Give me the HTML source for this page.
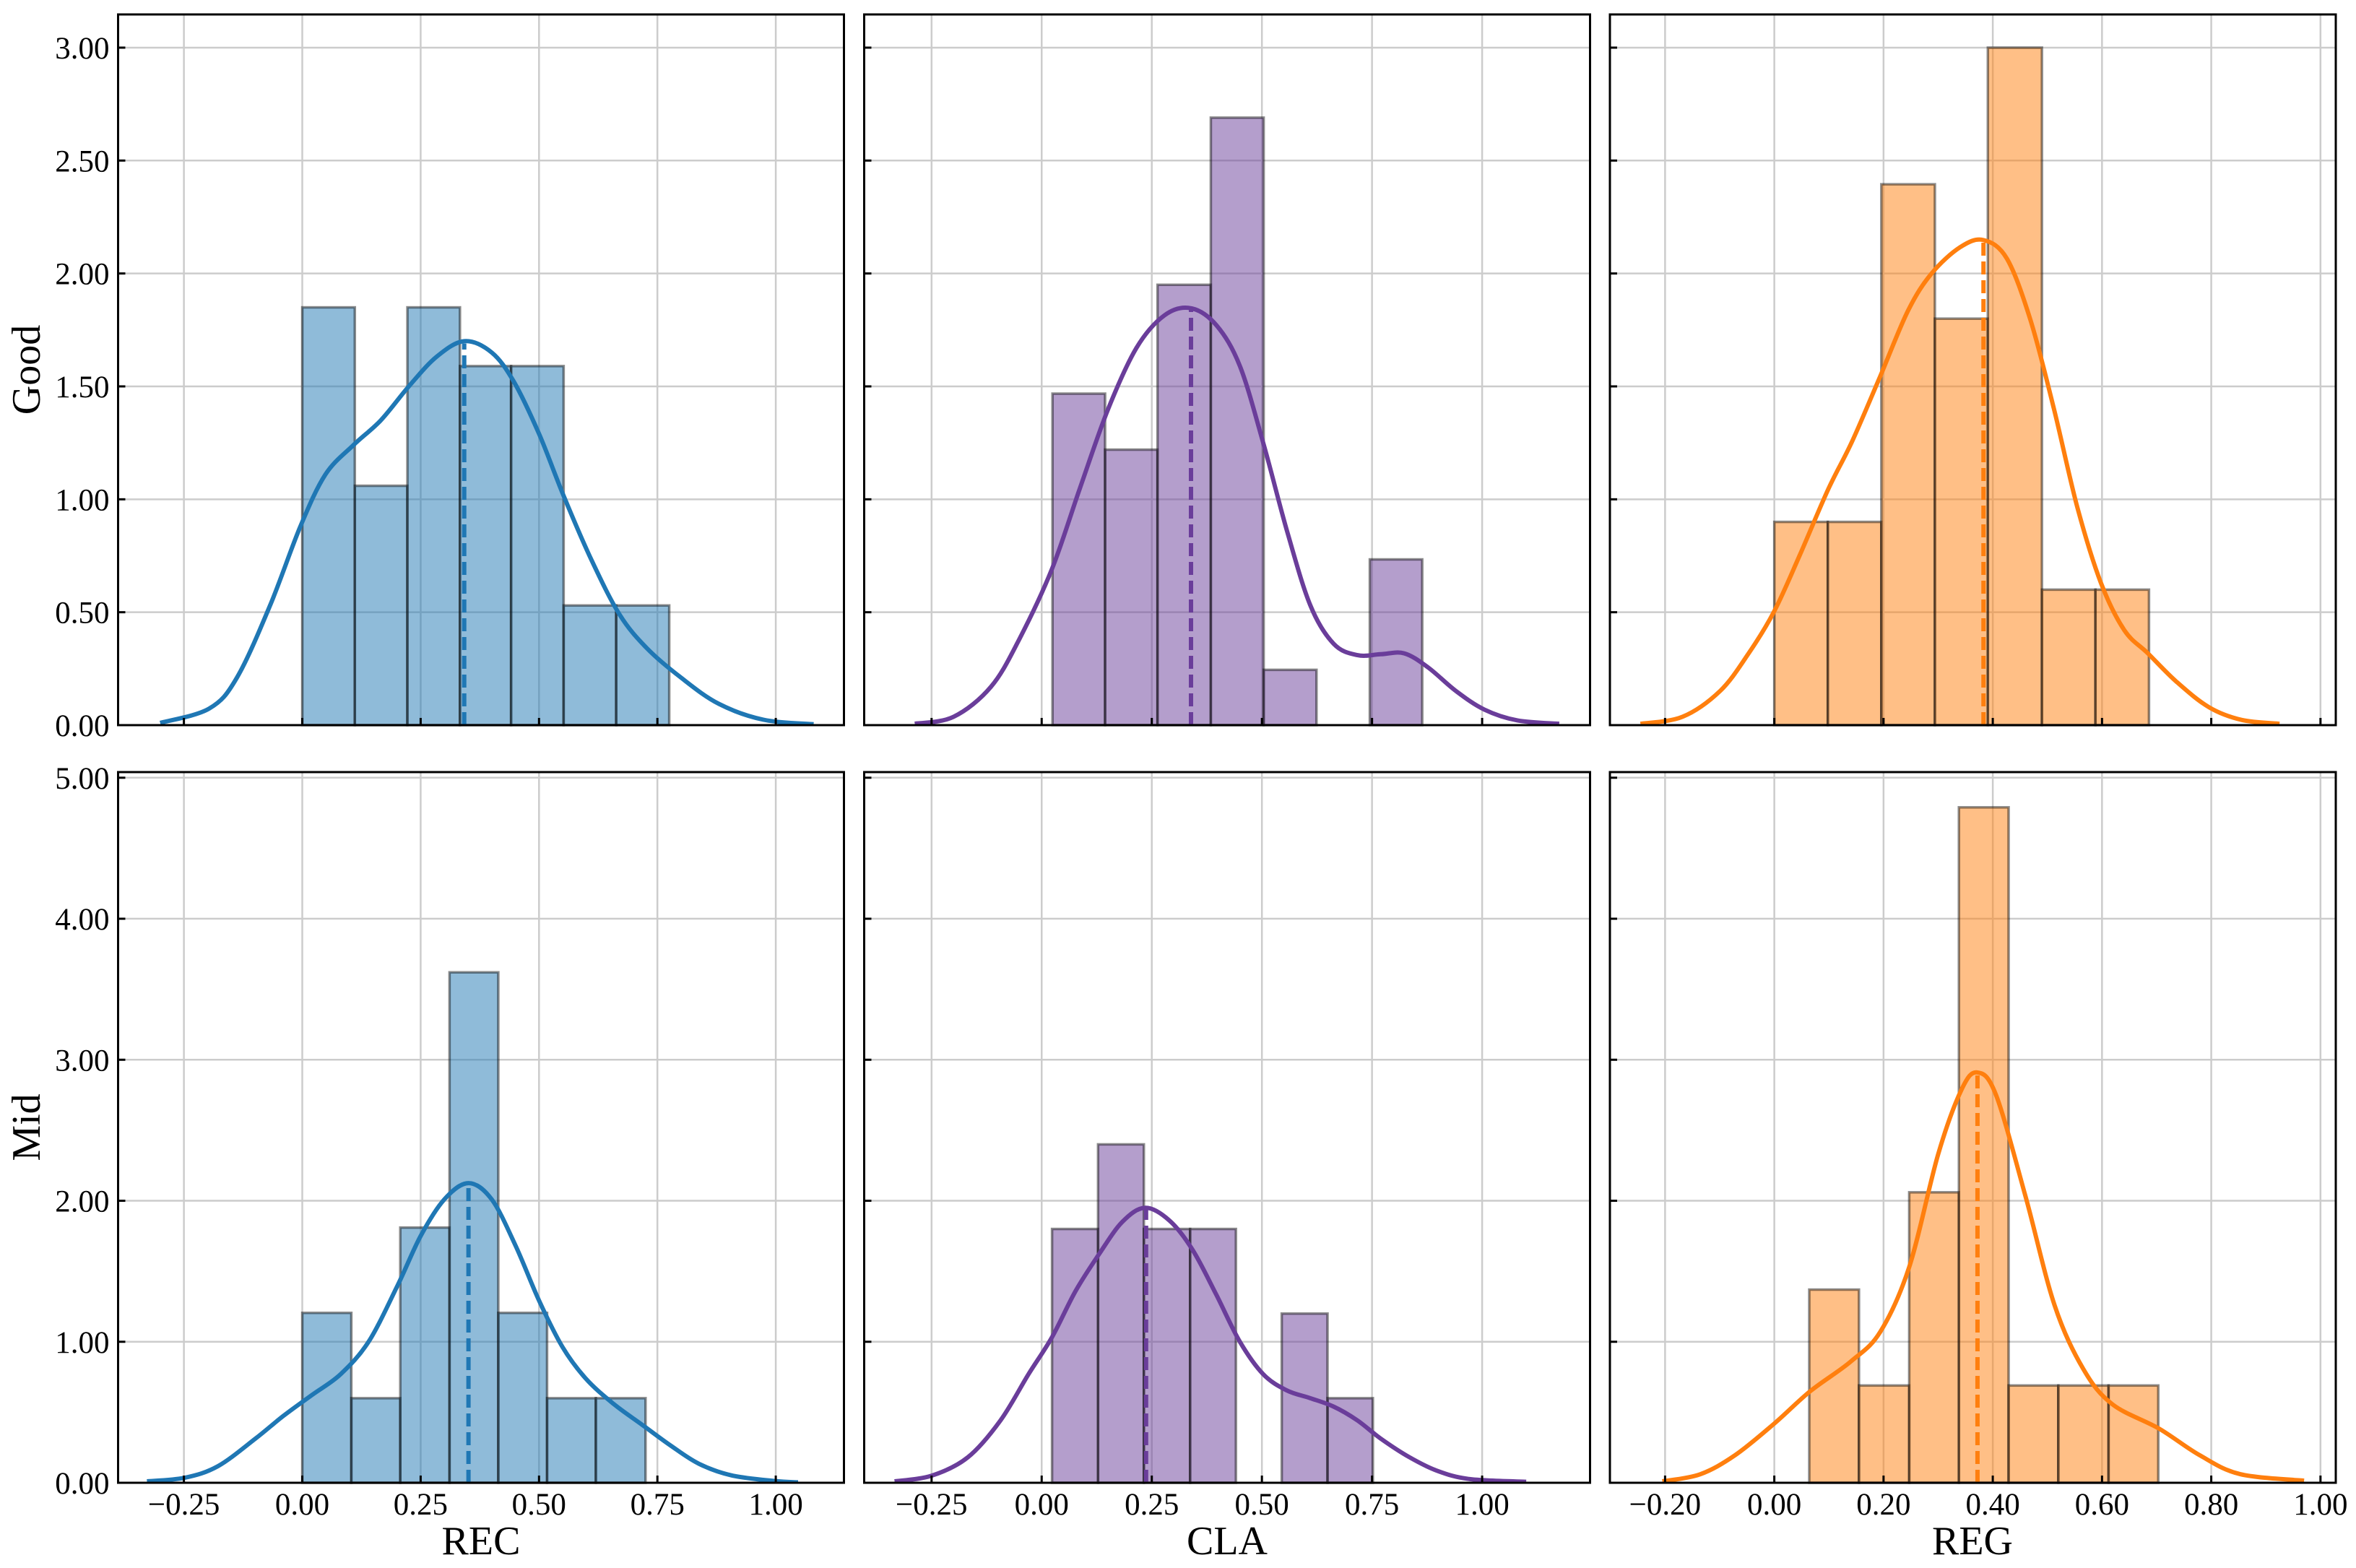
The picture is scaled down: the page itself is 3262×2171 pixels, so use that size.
<!DOCTYPE html>
<html>
<head>
<meta charset="utf-8">
<style>
html,body{margin:0;padding:0;background:#fff;}
svg{display:block;}
text{font-family:"Liberation Serif","DejaVu Serif",serif;fill:#000;}
</style>
</head>
<body>
<svg id="chart" width="3262" height="2171" viewBox="0 0 3262 2171" xmlns="http://www.w3.org/2000/svg">
<rect x="0" y="0" width="3262" height="2171" fill="#fff"/>
<text x="37" y="512" font-size="56" text-anchor="middle" dominant-baseline="central" transform="rotate(-90 37 512)">Good</text>
<text x="37" y="1561" font-size="56" text-anchor="middle" dominant-baseline="central" transform="rotate(-90 37 1561)">Mid</text>
<text x="666" y="2152" font-size="56" text-anchor="middle">REC</text>
<text x="1699" y="2152" font-size="56" text-anchor="middle">CLA</text>
<text x="2731" y="2152" font-size="56" text-anchor="middle">REG</text>
</svg>
<script>
// ---- data ----
const recGoodEdges = [0, 0.111, 0.222, 0.333, 0.441, 0.552, 0.663, 0.775];
const recGoodHeights = [1.85, 1.06, 1.85, 1.59, 1.59, 0.53, 0.53];
const recGoodKdeX = [-0.30,-0.197,-0.138,-0.068,-0.004,0.049,0.108,0.166,0.225,0.283,0.342,0.40,0.447,0.50,0.553,0.611,0.67,0.728,0.80,0.88,0.974,1.08];
const recGoodKdeY = [0.01,0.073,0.21,0.53,0.88,1.11,1.24,1.35,1.50,1.63,1.70,1.65,1.52,1.29,1.01,0.73,0.49,0.34,0.21,0.094,0.024,0.004];
const recGoodMean = [0.342, 1.69];

const claGoodEdges = [0.0245, 0.144, 0.263, 0.384, 0.504, 0.624, 0.745, 0.864];
const claGoodHeights = [1.468, 1.22, 1.95, 2.69, 0.245, 0, 0.734];
const claGoodKdeX = [-0.288,-0.20,-0.115,-0.051,0.023,0.087,0.151,0.215,0.279,0.339,0.397,0.45,0.503,0.557,0.61,0.663,0.717,0.77,0.823,0.877,0.94,1.005,1.08,1.175];
const claGoodKdeY = [0.006,0.037,0.17,0.38,0.69,1.05,1.40,1.67,1.815,1.846,1.77,1.59,1.25,0.86,0.53,0.36,0.31,0.314,0.318,0.256,0.152,0.069,0.021,0.006];
const claGoodMean = [0.339, 1.846];

const regGoodEdges = [0, 0.098, 0.196, 0.294, 0.391, 0.49, 0.588, 0.686];
const regGoodHeights = [0.90, 0.90, 2.395, 1.80, 3.0, 0.60, 0.60];
const regGoodKdeX = [-0.245,-0.168,-0.099,-0.047,0,0.047,0.099,0.142,0.194,0.245,0.288,0.34,0.383,0.426,0.469,0.512,0.555,0.598,0.641,0.684,0.736,0.796,0.856,0.925];
const regGoodKdeY = [0.006,0.037,0.152,0.318,0.505,0.755,1.046,1.254,1.545,1.836,2.00,2.116,2.148,2.065,1.794,1.40,0.963,0.63,0.42,0.318,0.193,0.079,0.023,0.006];
const regGoodMean = [0.383, 2.148];

const recMidEdges = [0, 0.1036, 0.207, 0.311, 0.414, 0.517, 0.62, 0.725];
const recMidHeights = [1.205, 0.60, 1.81, 3.62, 1.205, 0.60, 0.60];
const recMidKdeX = [-0.328,-0.248,-0.178,-0.099,-0.039,0.021,0.081,0.14,0.20,0.25,0.30,0.351,0.40,0.45,0.50,0.549,0.599,0.658,0.718,0.778,0.838,0.907,0.997,1.047];
const recMidKdeY = [0.01,0.036,0.118,0.313,0.477,0.624,0.77,1.0,1.39,1.75,2.01,2.125,2.01,1.685,1.293,0.966,0.738,0.558,0.411,0.264,0.134,0.052,0.013,0.003];
const recMidMean = [0.351, 2.125];

const claMidEdges = [0.0235, 0.128, 0.232, 0.337, 0.441, 0.545, 0.649, 0.752];
const claMidHeights = [1.80, 2.40, 1.80, 1.80, 0, 1.20, 0.60];
const claMidKdeX = [-0.334,-0.25,-0.168,-0.094,-0.03,0.023,0.077,0.13,0.183,0.235,0.29,0.343,0.397,0.45,0.503,0.556,0.61,0.663,0.716,0.77,0.834,0.898,0.972,1.10];
const claMidKdeY = [0.01,0.05,0.18,0.44,0.77,1.03,1.36,1.62,1.85,1.95,1.86,1.65,1.33,1.0,0.77,0.656,0.60,0.54,0.444,0.313,0.183,0.085,0.026,0.007];
const claMidMean = [0.237, 1.95];

const regMidEdges = [0.064, 0.155, 0.247, 0.338, 0.429, 0.52, 0.612, 0.703];
const regMidHeights = [1.37, 0.69, 2.06, 4.79, 0.69, 0.69, 0.69];
const regMidKdeX = [-0.205,-0.136,-0.072,0,0.066,0.14,0.194,0.247,0.30,0.343,0.372,0.406,0.46,0.513,0.566,0.619,0.704,0.779,0.853,0.97];
const regMidKdeY = [0.01,0.06,0.195,0.42,0.65,0.86,1.07,1.53,2.33,2.79,2.91,2.75,2.03,1.26,0.805,0.557,0.385,0.195,0.061,0.015];
const regMidMean = [0.372, 2.91];

const xTicksRC = [-0.25, 0, 0.25, 0.5, 0.75, 1.0];
const xTicksG = [-0.2, 0, 0.2, 0.4, 0.6, 0.8, 1.0];
const yTicksTop = [0, 0.5, 1.0, 1.5, 2.0, 2.5, 3.0];
const yTicksBottom = [0, 1, 2, 3, 4, 5];

// ---- layout ----
const NS = "http://www.w3.org/2000/svg";
const svg = document.getElementById("chart");
const colX = [163.5, 1196.5, 2229];
const rowY = [20, 1069];
const PW = 1005, PH = 984;
const xlims = [[-0.389, 1.144], [-0.403, 1.245], [-0.301, 1.028]];
const ylims = [[0, 3.147], [0, 5.04]];
const colors = ["#1f77b4", "#6a3d9a", "#ff7f0e"];
const colNames = ["rec", "cla", "reg"];
const rowNames = ["good", "mid"];

function mk(tag, attrs) {
  const e = document.createElementNS(NS, tag);
  for (const k in attrs) e.setAttribute(k, attrs[k]);
  return e;
}
function fmt(v) {
  const s = Math.abs(v).toFixed(2);
  return (v < -1e-9 ? "\u2212" : "") + s;
}
function smoothPath(pts) {
  let d = "M" + pts[0][0].toFixed(1) + "," + pts[0][1].toFixed(1);
  for (let i = 0; i < pts.length - 1; i++) {
    const p0 = pts[Math.max(0, i - 1)], p1 = pts[i], p2 = pts[i + 1], p3 = pts[Math.min(pts.length - 1, i + 2)];
    const c1x = p1[0] + (p2[0] - p0[0]) / 6, c1y = p1[1] + (p2[1] - p0[1]) / 6;
    const c2x = p2[0] - (p3[0] - p1[0]) / 6, c2y = p2[1] - (p3[1] - p1[1]) / 6;
    d += " C" + c1x.toFixed(1) + "," + c1y.toFixed(1) + " " + c2x.toFixed(1) + "," + c2y.toFixed(1) + " " + p2[0].toFixed(1) + "," + p2[1].toFixed(1);
  }
  return d;
}

const panels = [
  [0, 0, recGoodEdges, recGoodHeights, recGoodKdeX, recGoodKdeY, recGoodMean],
  [0, 1, claGoodEdges, claGoodHeights, claGoodKdeX, claGoodKdeY, claGoodMean],
  [0, 2, regGoodEdges, regGoodHeights, regGoodKdeX, regGoodKdeY, regGoodMean],
  [1, 0, recMidEdges, recMidHeights, recMidKdeX, recMidKdeY, recMidMean],
  [1, 1, claMidEdges, claMidHeights, claMidKdeX, claMidKdeY, claMidMean],
  [1, 2, regMidEdges, regMidHeights, regMidKdeX, regMidKdeY, regMidMean]
];

panels.forEach(function (p) {
  const r = p[0], c = p[1], edges = p[2], heights = p[3], kx = p[4], ky = p[5], mean = p[6];
  const x0 = colX[c], y0 = rowY[r];
  const xl = xlims[c], yl = ylims[r];
  const sx = v => x0 + (v - xl[0]) / (xl[1] - xl[0]) * PW;
  const sy = v => y0 + PH - (v - yl[0]) / (yl[1] - yl[0]) * PH;
  const xt = c === 2 ? xTicksG : xTicksRC;
  const yt = r === 0 ? yTicksTop : yTicksBottom;
  const color = colors[c];
  const pname = colNames[c] + "-" + rowNames[r];

  const g = mk("g", {});
  
  
  svg.appendChild(g);

  const clipId = "clip-" + pname;
  const cp = mk("clipPath", { id: clipId });
  cp.appendChild(mk("rect", { x: x0, y: y0, width: PW, height: PH }));
  g.appendChild(cp);

  xt.forEach(function (t) {
    const l = mk("line", { x1: sx(t), x2: sx(t), y1: y0, y2: y0 + PH, stroke: "#cccccc", "stroke-width": 2.5 });
    
    
    g.appendChild(l);
  });
  yt.forEach(function (t) {
    const l = mk("line", { x1: x0, x2: x0 + PW, y1: sy(t), y2: sy(t), stroke: "#cccccc", "stroke-width": 2.5 });
    
    
    g.appendChild(l);
  });

  heights.forEach(function (h, i) {
    if (h <= 0) return;
    const xa = sx(edges[i]), xb = sx(edges[i + 1]);
    const rect = mk("rect", { x: xa, y: sy(h), width: xb - xa, height: sy(0) - sy(h), fill: color, "fill-opacity": 0.5, stroke: "#000", "stroke-opacity": 0.45, "stroke-width": 3.5 });
    
    
    g.appendChild(rect);
  });

  const pts = kx.map((v, i) => [sx(v), sy(ky[i])]);
  const path = mk("path", { d: smoothPath(pts), fill: "none", stroke: color, "stroke-width": 6, "stroke-linejoin": "round", "stroke-linecap": "butt", "clip-path": "url(#" + clipId + ")" });
  
  
  g.appendChild(path);

  const ml = mk("line", { x1: sx(mean[0]), x2: sx(mean[0]), y1: sy(0), y2: sy(mean[1]), stroke: color, "stroke-width": 6, "stroke-dasharray": "18,8" });
  
  
  g.appendChild(ml);

  xt.forEach(function (t) {
    const tk = mk("line", { x1: sx(t), x2: sx(t), y1: y0 + PH, y2: y0 + PH - 10, stroke: "#000", "stroke-width": 3 });
    
    
    g.appendChild(tk);
    if (r === 1) {
      const tx = mk("text", { x: sx(t), y: y0 + PH + 44, "font-size": 43, "text-anchor": "middle" });
      tx.textContent = fmt(t);
      
      
      g.appendChild(tx);
    }
  });
  yt.forEach(function (t) {
    const tk = mk("line", { x1: x0, x2: x0 + 10, y1: sy(t), y2: sy(t), stroke: "#000", "stroke-width": 3 });
    
    
    g.appendChild(tk);
    if (c === 0) {
      const tx = mk("text", { x: x0 - 12, y: sy(t) + 15, "font-size": 43, "text-anchor": "end" });
      tx.textContent = fmt(t);
      
      
      g.appendChild(tx);
    }
  });

  const fr = mk("rect", { x: x0, y: y0, width: PW, height: PH, fill: "none", stroke: "#000", "stroke-width": 3 });
  
  
  g.appendChild(fr);
});
</script>
</body>
</html>
